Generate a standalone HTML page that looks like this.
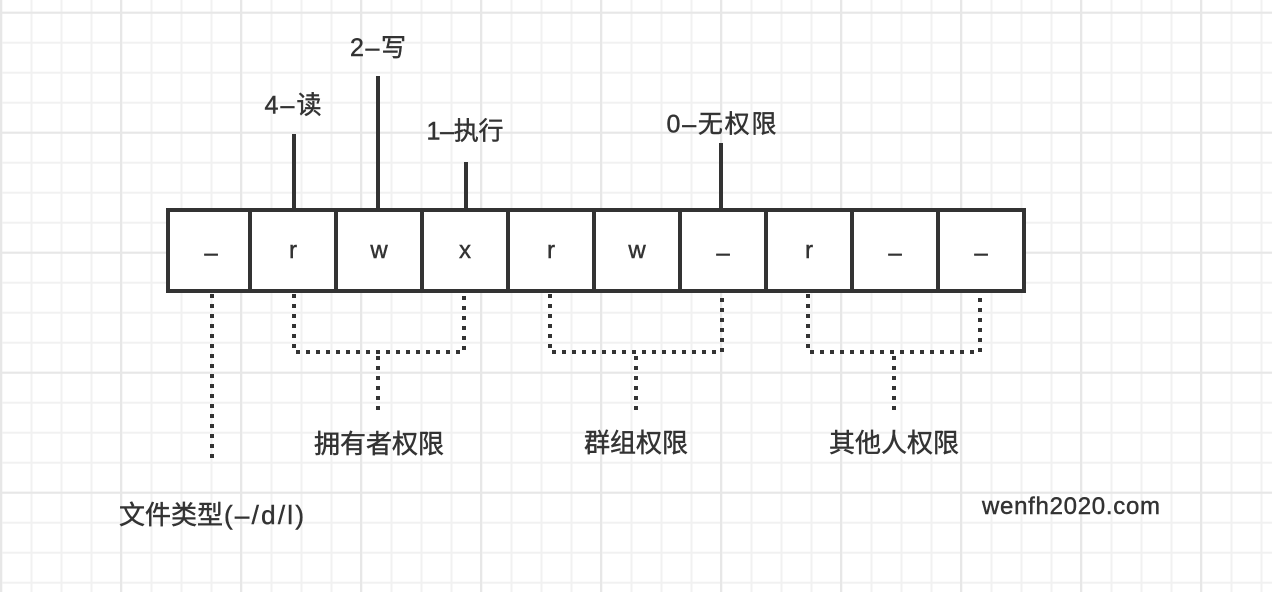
<!DOCTYPE html>
<html>
<head>
<meta charset="utf-8">
<style>
  html,body{margin:0;padding:0;background:#fff;}
  body{width:1272px;height:592px;overflow:hidden;}
  svg{display:block;}
  text{font-family:"Liberation Sans","Noto Sans CJK SC",sans-serif;fill:#333;stroke:#333;stroke-width:0.45px;}
</style>
</head>
<body>
<svg width="1272" height="592" viewBox="0 0 1272 592" xmlns="http://www.w3.org/2000/svg">
  <defs>
    <pattern id="minor" patternUnits="userSpaceOnUse" x="-13.5" y="-2.3" width="30" height="30">
      <line x1="15" y1="0" x2="15" y2="30" stroke="#f1f1f1" stroke-width="2"/>
      <line x1="0" y1="15" x2="30" y2="15" stroke="#f1f1f1" stroke-width="2"/>
    </pattern>
    <pattern id="major" patternUnits="userSpaceOnUse" x="-59" y="-47.3" width="120" height="120">
      <line x1="60" y1="0" x2="60" y2="120" stroke="#e7e7e7" stroke-width="2"/>
      <line x1="0" y1="60" x2="120" y2="60" stroke="#e7e7e7" stroke-width="2"/>
    </pattern>
  </defs>
  <rect x="0" y="0" width="1272" height="592" fill="#fff"/>
  <rect x="0" y="0" width="1272" height="592" fill="url(#minor)"/>
  <rect x="0" y="0" width="1272" height="592" fill="url(#major)"/>

  <!-- top connectors -->
  <g stroke="#333" stroke-width="4" fill="none">
    <line x1="294" y1="134" x2="294" y2="210"/>
    <line x1="378" y1="76" x2="378" y2="210"/>
    <line x1="466" y1="162" x2="466" y2="210"/>
    <line x1="721" y1="143" x2="721" y2="210"/>
  </g>

  <!-- cells -->
  <rect x="168" y="210" width="856" height="81" fill="#fff" stroke="#333" stroke-width="4"/>
  <g stroke="#333" stroke-width="4">
    <line x1="250" y1="210" x2="250" y2="291"/>
    <line x1="336" y1="210" x2="336" y2="291"/>
    <line x1="422" y1="210" x2="422" y2="291"/>
    <line x1="508" y1="210" x2="508" y2="291"/>
    <line x1="594" y1="210" x2="594" y2="291"/>
    <line x1="680" y1="210" x2="680" y2="291"/>
    <line x1="766" y1="210" x2="766" y2="291"/>
    <line x1="852" y1="210" x2="852" y2="291"/>
    <line x1="938" y1="210" x2="938" y2="291"/>
  </g>
  <g font-size="24" text-anchor="middle">
    <text x="211" y="261">–</text>
    <text x="293" y="258">r</text>
    <text x="379" y="258">w</text>
    <text x="465" y="258">x</text>
    <text x="551" y="258">r</text>
    <text x="637" y="258">w</text>
    <text x="723" y="261">–</text>
    <text x="809" y="258">r</text>
    <text x="895" y="261">–</text>
    <text x="981" y="261">–</text>
  </g>

  <!-- top labels -->
  <g font-size="25" text-anchor="middle">
    <text x="293" y="113.5" textLength="57" lengthAdjust="spacing">4–读</text>
    <text x="378" y="56" textLength="56" lengthAdjust="spacing">2–写</text>
    <text x="465" y="139.5" textLength="77" lengthAdjust="spacing">1–执行</text>
    <text x="721.5" y="132.5" textLength="110" lengthAdjust="spacing">0–无权限</text>
  </g>

  <!-- dotted connectors -->
  <g stroke="#333" stroke-width="4" fill="none" stroke-dasharray="4 6">
    <line x1="212" y1="294" x2="212" y2="459"/>
    <path d="M294 294 V352 H464 V296"/>
    <line x1="378" y1="356" x2="378" y2="411"/>
    <path d="M550 294 V352 H722 V296"/>
    <line x1="636" y1="356" x2="636" y2="411"/>
    <path d="M808 294 V352 H980 V296"/>
    <line x1="894" y1="356" x2="894" y2="411"/>
  </g>

  <!-- bottom labels -->
  <g font-size="26" text-anchor="middle">
    <text x="379" y="453">拥有者权限</text>
    <text x="636" y="452">群组权限</text>
    <text x="894" y="452">其他人权限</text>
  </g>
  <text x="119" y="524" font-size="26">文件类型</text>
  <text x="224" y="524" font-size="26" textLength="80" lengthAdjust="spacing">(–/d/l)</text>

  <text x="982" y="514" font-size="24" textLength="178" lengthAdjust="spacing">wenfh2020.com</text>
</svg>
</body>
</html>
